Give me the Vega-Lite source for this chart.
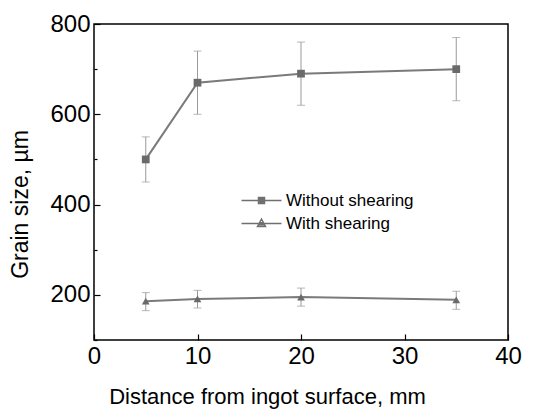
{
  "$schema": "https://vega.github.io/schema/vega-lite/v6.json",
  "autosize": "none",
  "width": 414,
  "height": 316,
  "padding": {"left": 94, "top": 24, "right": 43, "bottom": 71},
  "background": "white",
  "config": {
    "view": {"stroke": "black", "strokeWidth": 1.5},
    "font": "Liberation Sans",
    "axis": {"grid": false, "domain": false, "labelFont": "Liberation Sans", "titleFont": "Liberation Sans", "labelColor": "black", "titleColor": "black", "titleFontWeight": "normal", "tickColor": "black"}
  },
  "data": {
    "values": [
      {"series": "Without shearing", "x": 5, "y": 500, "lo": 450, "hi": 550},
      {"series": "Without shearing", "x": 10, "y": 670, "lo": 600, "hi": 740},
      {"series": "Without shearing", "x": 20, "y": 690, "lo": 620, "hi": 760},
      {"series": "Without shearing", "x": 35, "y": 700, "lo": 630, "hi": 770},
      {"series": "With shearing", "x": 5, "y": 186, "lo": 165, "hi": 205},
      {"series": "With shearing", "x": 10, "y": 191, "lo": 171, "hi": 210},
      {"series": "With shearing", "x": 20, "y": 195, "lo": 175, "hi": 215},
      {"series": "With shearing", "x": 35, "y": 189, "lo": 168, "hi": 208}
    ]
  },
  "encoding": {
    "x": {"field": "x", "type": "quantitative", "scale": {"domain": [0, 40], "nice": false, "zero": false},
      "axis": {"title": "Distance from ingot surface, mm", "values": [0, 10, 20, 30, 40], "tickSize": -6, "tickWidth": 1.2, "labelFontSize": 24, "labelPadding": 10, "titleFontSize": 22, "titlePadding": 18, "titleX": 173, "labelFlush": false}},
    "y": {"field": "y", "type": "quantitative", "scale": {"domain": [100, 800], "nice": false, "zero": false},
      "axis": {"title": "Grain size, µm", "values": [100, 200, 300, 400, 500, 600, 700, 800],
        "labelExpr": "datum.value % 200 == 0 ? datum.label : ''",
        "tickSize": {"condition": {"test": "datum.value % 200 == 0", "value": -6}, "value": -3},
        "tickWidth": 1.2, "labelFontSize": 24, "labelPadding": 10, "titleFontSize": 23, "titlePadding": 17, "titleY": 180, "labelFlush": false}}
  },
  "layer": [
    {
      "mark": {"type": "rule", "color": "#9a9a9a", "strokeWidth": 1},
      "encoding": {"y": {"field": "lo", "type": "quantitative"}, "y2": {"field": "hi"}}
    },
    {
      "mark": {"type": "tick", "orient": "horizontal", "size": 8, "thickness": 1, "color": "#9a9a9a"},
      "encoding": {"y": {"field": "lo", "type": "quantitative"}}
    },
    {
      "mark": {"type": "tick", "orient": "horizontal", "size": 8, "thickness": 1, "color": "#9a9a9a"},
      "encoding": {"y": {"field": "hi", "type": "quantitative"}}
    },
    {
      "mark": {"type": "line", "color": "#7a7a7a", "strokeWidth": 2},
      "encoding": {"detail": {"field": "series", "type": "nominal"}}
    },
    {
      "mark": {"type": "point", "filled": true, "color": "#6a6a6a", "opacity": 1, "size": 60},
      "encoding": {"shape": {"field": "series", "type": "nominal", "scale": {"domain": ["Without shearing", "With shearing"], "range": ["square", "triangle-up"]}, "legend": null}}
    },
    {
      "mark": {"type": "point", "filled": false, "color": "#707070", "opacity": 0},
      "encoding": {"shape": {"field": "series", "type": "nominal",
        "scale": {"domain": ["Without shearing", "With shearing"], "range": ["M-4,0H4M-0.6,-0.6H0.6V0.6H-0.6ZM-0.6,-0.3H0.6M-0.6,0.3H0.6", "M-4,0H4M0,-0.9L0.8,0.6H-0.8ZM-0.4,-0.15H0.4M-0.6,0.25H0.6"]},
        "legend": {"title": null, "orient": "none", "legendX": 159, "legendY": 168, "symbolSize": 100, "symbolOpacity": 1, "symbolStrokeColor": "#707070", "symbolStrokeWidth": 1.5, "labelFontSize": 17, "labelFont": "Liberation Sans", "labelColor": "black", "rowPadding": 5, "labelOffset": 16}}}
    }
  ],
  "resolve": {"scale": {"shape": "independent"}, "legend": {"shape": "independent"}}
}
